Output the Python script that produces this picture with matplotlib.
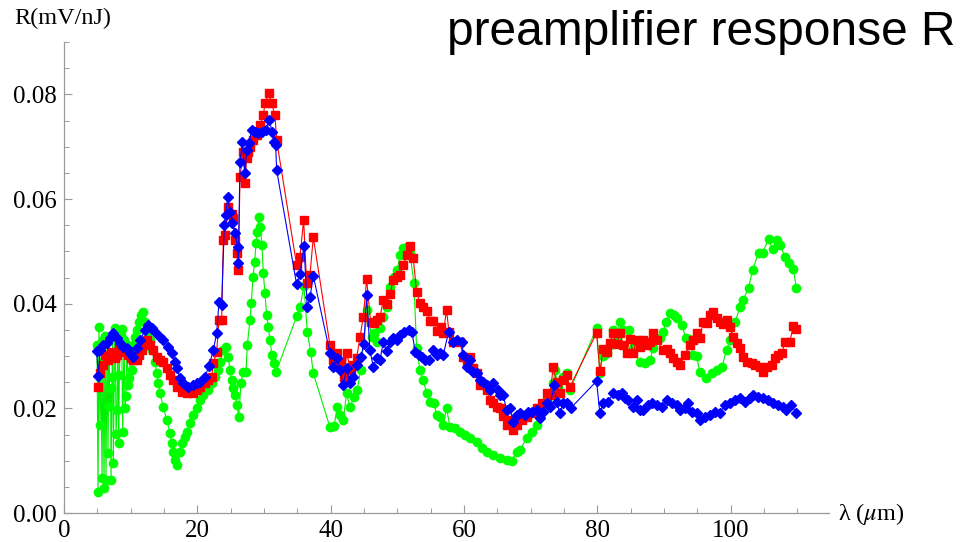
import numpy as np
import matplotlib.pyplot as plt
from matplotlib.ticker import MultipleLocator, FormatStrFormatter

# --- dati (lambda in um, R in mV/nJ) ---
lam_green = [4.95, 5.1, 5.25, 5.4, 5.55, 5.7, 5.85, 6.0, 6.15, 6.3, 6.45, 6.6, 6.75, 6.8, 7.0, 7.05,
             7.2, 7.3, 7.4, 7.6, 7.7, 7.8, 7.95, 8.1, 8.2, 8.3, 8.5, 8.65, 8.8, 9.0, 9.15, 9.3, 9.45,
             9.65, 9.8, 10.0, 10.2, 10.4, 10.7, 11.0, 11.3, 11.6, 11.9, 12.2, 12.6, 12.9, 13.15, 13.65,
             13.9, 14.15, 14.4, 14.9, 15.4, 15.9, 16.15, 16.4, 16.65, 16.9, 17.4, 17.65, 18.15, 18.4,
             18.9, 19.4, 19.9, 20.4, 20.9, 21.65, 22.15, 22.65, 23.15, 23.4, 23.9, 24.3, 24.65, 24.9,
             25.15, 25.4, 25.7, 25.95, 26.2, 26.55, 26.85, 27.3, 27.5, 27.9, 28.1, 28.35, 28.6, 28.8,
             29.0, 29.2, 29.45, 29.7, 29.9, 30.15, 30.4, 30.65, 30.9, 31.2, 31.5, 31.8, 34.9, 35.4,
             36.0, 36.5, 37.0, 37.4, 39.9, 40.5, 41.0, 41.4, 41.9, 42.4, 42.9, 43.5, 44.0, 44.5, 45.5,
             46.15, 46.5, 47.0, 47.4, 47.9, 48.4, 48.9, 49.5, 50.0, 50.4, 50.9, 51.5, 51.9, 52.5, 52.9,
             53.4, 53.9, 54.4, 54.9, 55.5, 55.9, 56.4, 56.9, 57.4, 57.9, 58.65, 59.4, 60.15, 60.9,
             61.9, 62.65, 63.4, 64.4, 65.4, 66.4, 67.15, 67.9, 68.4, 69.4, 70.15, 70.9, 71.4, 71.9,
             72.4, 72.9, 73.4, 73.65, 74.1, 74.4, 74.9, 75.45, 75.9, 79.9, 80.4, 80.8, 81.4, 81.9,
             82.4, 82.9, 83.4, 83.9, 84.8, 85.4, 86.4, 87.15, 87.9, 88.4, 89.4, 89.9, 90.3, 90.9, 91.5,
             92.0, 92.7, 93.3, 93.8, 94.4, 94.9, 95.4, 96.3, 97.2, 97.9, 98.7, 99.4, 99.9, 100.7,
             101.4, 101.9, 102.7, 103.3, 104.2, 104.8, 105.7, 106.3, 106.9, 107.4, 108.2, 108.8,
             109.4, 109.9]
R_green = [0.0321, 0.0040, 0.0355, 0.0168, 0.0288, 0.0067, 0.0330, 0.0048, 0.0338, 0.0063, 0.0334,
           0.0115, 0.0330, 0.0204, 0.0239, 0.0063, 0.0260, 0.0338, 0.0096, 0.0344, 0.0353, 0.0151,
           0.0197, 0.0346, 0.0134, 0.0264, 0.0340, 0.0351, 0.0155, 0.0330, 0.0200, 0.0223, 0.0321,
           0.0244, 0.0258, 0.0307, 0.0273, 0.0321, 0.0336, 0.0350, 0.0365, 0.0378, 0.0384, 0.0365,
           0.0346, 0.0330, 0.0311, 0.0288, 0.0267, 0.0248, 0.0229, 0.0202, 0.0178, 0.0153, 0.0134,
           0.0117, 0.0101, 0.0092, 0.0117, 0.0134, 0.0145, 0.0155, 0.0172, 0.0187, 0.0201, 0.0216,
           0.0225, 0.0235, 0.0248, 0.0260, 0.0273, 0.0288, 0.0311, 0.0317, 0.0298, 0.0273, 0.0254,
           0.0239, 0.0225, 0.0206, 0.0183, 0.0248, 0.0269, 0.0269, 0.0321, 0.0369, 0.0401, 0.0451,
           0.0479, 0.0516, 0.0537, 0.0565, 0.0546, 0.0512, 0.0458, 0.0420, 0.0378, 0.0355, 0.0330,
           0.0302, 0.0287, 0.0269, 0.0376, 0.0393, 0.0434, 0.0346, 0.0308, 0.0267, 0.0164, 0.0166,
           0.0202, 0.0187, 0.0178, 0.0229, 0.0202, 0.0222, 0.0235, 0.0273, 0.0388, 0.0336, 0.0344,
           0.0327, 0.0353, 0.0374, 0.0393, 0.0432, 0.0451, 0.0464, 0.0493, 0.0506, 0.0508, 0.0497,
           0.0439, 0.0315, 0.0273, 0.0254, 0.0229, 0.0212, 0.0210, 0.0187, 0.0183, 0.0168, 0.0200,
           0.0164, 0.0162, 0.0155, 0.0149, 0.0143, 0.0136, 0.0124, 0.0117, 0.0111, 0.0105, 0.0101,
           0.0099, 0.0117, 0.0120, 0.0143, 0.0155, 0.0168, 0.0183, 0.0197, 0.0216, 0.0229, 0.0248,
           0.0273, 0.0241, 0.0229, 0.0260, 0.0267, 0.0235, 0.0353, 0.0267, 0.0300, 0.0306, 0.0321,
           0.0350, 0.0336, 0.0365, 0.0350, 0.0350, 0.0315, 0.0288, 0.0287, 0.0292, 0.0315, 0.0334,
           0.0346, 0.0365, 0.0382, 0.0378, 0.0372, 0.0359, 0.0334, 0.0332, 0.0302, 0.0300, 0.0269,
           0.0258, 0.0267, 0.0273, 0.0279, 0.0311, 0.0330, 0.0365, 0.0393, 0.0407, 0.0430, 0.0464,
           0.0497, 0.0497, 0.0523, 0.0504, 0.0521, 0.0512, 0.0489, 0.0478, 0.0466, 0.0430]

lam_red = [5.15, 5.4, 5.85, 6.2, 6.6, 7.0, 7.35, 7.65, 7.9, 8.25, 8.65, 9.15, 9.6, 10.0, 10.35, 10.9,
           11.25, 11.65, 12.0, 12.4, 12.9, 13.35, 13.9, 14.4, 14.9, 15.4, 15.9, 16.4, 16.9, 17.65,
           18.4, 18.9, 19.4, 19.9, 20.4, 21.15, 21.65, 22.15, 22.4, 22.9, 23.25, 23.65, 23.9, 24.15,
           24.65, 25.15, 25.4, 25.65, 25.9, 26.15, 26.4, 26.9, 27.15, 27.4, 27.65, 27.9, 28.4, 28.9,
           29.4, 29.9, 30.15, 30.7, 31.15, 31.65, 31.9, 34.9, 35.4, 35.95, 36.4, 36.9, 37.4, 39.9,
           40.4, 40.9, 41.5, 42.0, 42.4, 43.0, 43.4, 43.9, 44.4, 44.9, 45.4, 46.0, 46.5, 47.0, 47.4,
           47.9, 48.4, 48.9, 49.4, 49.95, 50.4, 50.9, 51.4, 51.9, 52.4, 52.9, 53.4, 53.9, 54.4, 54.9,
           55.4, 55.95, 56.5, 56.9, 57.4, 57.75, 58.4, 59.4, 59.9, 60.4, 60.9, 61.4, 61.9, 62.4,
           62.9, 63.4, 63.9, 64.4, 64.9, 65.4, 65.9, 66.4, 66.9, 67.4, 67.9, 68.65, 69.4, 70.15,
           70.9, 71.65, 72.4, 72.9, 73.4, 73.9, 74.4, 74.9, 75.4, 75.9, 79.9, 80.4, 80.9, 81.4,
           81.9, 82.4, 82.9, 83.4, 83.9, 84.4, 84.9, 85.4, 85.9, 86.4, 86.9, 87.4, 87.9, 88.4, 88.9,
           89.9, 90.4, 90.9, 91.4, 91.9, 92.4, 93.15, 93.9, 94.4, 94.9, 95.4, 95.9, 96.4, 96.9,
           97.4, 97.9, 98.4, 98.9, 99.4, 99.9, 100.4, 100.9, 101.4, 101.9, 102.4, 103.2, 103.7,
           104.4, 104.9, 105.4, 106.2, 106.7, 107.2, 107.7, 108.2, 108.9, 109.4, 109.9]
R_red = [0.0241, 0.0267, 0.0283, 0.0302, 0.0292, 0.0308, 0.0306, 0.0296, 0.0302, 0.0315, 0.0311,
         0.0308, 0.0302, 0.0296, 0.0292, 0.0292, 0.0302, 0.0311, 0.0323, 0.0330, 0.0321, 0.0311,
         0.0298, 0.0292, 0.0288, 0.0277, 0.0264, 0.0254, 0.0241, 0.0231, 0.0229, 0.0235, 0.0229,
         0.0235, 0.0241, 0.0248, 0.0254, 0.0260, 0.0286, 0.0308, 0.0369, 0.0369, 0.0521, 0.0531,
         0.0584, 0.0571, 0.0563, 0.0521, 0.0497, 0.0464, 0.0642, 0.0690, 0.0630, 0.0678, 0.0690,
         0.0699, 0.0712, 0.0722, 0.0741, 0.0760, 0.0783, 0.0802, 0.0783, 0.0760, 0.0712, 0.0474,
         0.0489, 0.0560, 0.0439, 0.0455, 0.0527, 0.0321, 0.0292, 0.0306, 0.0288, 0.0260, 0.0306,
         0.0273, 0.0283, 0.0296, 0.0336, 0.0374, 0.0447, 0.0365, 0.0363, 0.0369, 0.0374, 0.0407,
         0.0399, 0.0418, 0.0445, 0.0451, 0.0455, 0.0474, 0.0493, 0.0510, 0.0487, 0.0422, 0.0401,
         0.0393, 0.0386, 0.0367, 0.0367, 0.0348, 0.0355, 0.0344, 0.0388, 0.0346, 0.0327, 0.0327,
         0.0298, 0.0286, 0.0298, 0.0277, 0.0267, 0.0244, 0.0246, 0.0235, 0.0216, 0.0210, 0.0202,
         0.0200, 0.0185, 0.0168, 0.0178, 0.0159, 0.0168, 0.0178, 0.0183, 0.0191, 0.0200, 0.0210,
         0.0229, 0.0225, 0.0279, 0.0250, 0.0229, 0.0254, 0.0264, 0.0241, 0.0344, 0.0271, 0.0313,
         0.0308, 0.0325, 0.0344, 0.0323, 0.0344, 0.0321, 0.0306, 0.0332, 0.0306, 0.0330, 0.0317,
         0.0330, 0.0321, 0.0327, 0.0344, 0.0330, 0.0311, 0.0313, 0.0306, 0.0296, 0.0288, 0.0283,
         0.0302, 0.0321, 0.0330, 0.0344, 0.0334, 0.0365, 0.0363, 0.0378, 0.0384, 0.0372, 0.0365,
         0.0361, 0.0369, 0.0355, 0.0336, 0.0325, 0.0315, 0.0298, 0.0288, 0.0286, 0.0283, 0.0279,
         0.0269, 0.0279, 0.0283, 0.0296, 0.0302, 0.0306, 0.0327, 0.0327, 0.0357, 0.0351]

lam_blue = [4.9, 5.15, 5.4, 5.9, 6.4, 6.9, 7.4, 7.9, 8.4, 8.9, 9.4, 9.9, 10.4, 10.9, 11.4, 12.15,
            12.65, 13.15, 13.65, 14.4, 14.9, 15.65, 16.15, 16.65, 16.9, 17.4, 17.9, 18.65, 19.4,
            19.9, 20.4, 21.15, 21.75, 22.4, 22.9, 23.25, 23.65, 24.05, 24.25, 24.55, 24.9, 25.25,
            25.65, 26.05, 26.15, 26.4, 26.75, 27.15, 27.4, 27.75, 28.15, 28.65, 29.15, 29.65, 30.25,
            30.75, 31.25, 31.5, 31.75, 31.9, 34.9, 35.4, 36.0, 36.5, 36.9, 37.4, 39.9, 40.3, 41.0,
            41.4, 41.9, 42.4, 42.9, 43.4, 44.0, 44.5, 45.0, 45.4, 45.9, 46.4, 46.9, 47.4, 47.9,
            48.4, 48.9, 49.4, 49.9, 50.4, 51.0, 51.7, 52.2, 52.7, 53.2, 53.7, 54.2, 54.7, 55.4,
            55.9, 56.4, 56.9, 57.7, 58.4, 58.9, 59.7, 59.9, 60.4, 60.9, 61.4, 61.9, 62.4, 62.9,
            63.4, 63.9, 64.4, 65.15, 65.4, 65.9, 66.4, 66.9, 67.4, 67.9, 68.4, 69.15, 69.65, 70.15,
            70.9, 71.4, 71.9, 72.4, 72.9, 73.5, 73.9, 74.4, 74.9, 75.4, 76.0, 79.9, 80.4, 80.9,
            81.65, 82.4, 83.15, 83.65, 84.15, 84.65, 85.4, 85.9, 86.4, 86.9, 87.65, 88.15, 88.9,
            89.65, 90.4, 91.15, 91.9, 92.4, 93.15, 93.65, 94.15, 94.9, 95.4, 96.15, 96.9, 97.65,
            98.4, 99.15, 99.9, 100.65, 101.4, 102.15, 102.9, 103.4, 104.15, 104.9, 105.65, 106.4,
            107.15, 107.9, 108.4, 109.15, 109.9]
R_blue = [0.0309, 0.0262, 0.0311, 0.0321, 0.0325, 0.0334, 0.0344, 0.0334, 0.0325, 0.0317, 0.0315,
          0.0306, 0.0298, 0.0315, 0.0330, 0.0350, 0.0359, 0.0353, 0.0346, 0.0336, 0.0330, 0.0317,
          0.0306, 0.0288, 0.0277, 0.0258, 0.0248, 0.0241, 0.0244, 0.0248, 0.0250, 0.0260, 0.0281,
          0.0311, 0.0344, 0.0403, 0.0397, 0.0550, 0.0569, 0.0604, 0.0575, 0.0554, 0.0535, 0.0508,
          0.0478, 0.0670, 0.0709, 0.0649, 0.0693, 0.0707, 0.0732, 0.0728, 0.0726, 0.0728, 0.0732,
          0.0751, 0.0728, 0.0709, 0.0703, 0.0655, 0.0437, 0.0456, 0.0510, 0.0393, 0.0412, 0.0453,
          0.0306, 0.0279, 0.0296, 0.0273, 0.0244, 0.0277, 0.0248, 0.0260, 0.0283, 0.0298, 0.0323,
          0.0416, 0.0311, 0.0279, 0.0296, 0.0292, 0.0327, 0.0309, 0.0327, 0.0334, 0.0330, 0.0340,
          0.0346, 0.0350, 0.0346, 0.0308, 0.0302, 0.0298, 0.0292, 0.0292, 0.0311, 0.0302, 0.0306,
          0.0302, 0.0346, 0.0327, 0.0330, 0.0327, 0.0302, 0.0279, 0.0292, 0.0269, 0.0267, 0.0254,
          0.0250, 0.0244, 0.0235, 0.0248, 0.0235, 0.0225, 0.0225, 0.0197, 0.0200, 0.0174, 0.0187,
          0.0191, 0.0187, 0.0193, 0.0193, 0.0197, 0.0181, 0.0193, 0.0210, 0.0202, 0.0244, 0.0212,
          0.0191, 0.0210, 0.0210, 0.0200, 0.0252, 0.0191, 0.0210, 0.0212, 0.0229, 0.0225, 0.0229,
          0.0220, 0.0216, 0.0202, 0.0216, 0.0197, 0.0197, 0.0206, 0.0210, 0.0206, 0.0202, 0.0216,
          0.0210, 0.0206, 0.0197, 0.0200, 0.0210, 0.0193, 0.0191, 0.0178, 0.0183, 0.0187, 0.0193,
          0.0191, 0.0206, 0.0210, 0.0216, 0.0220, 0.0212, 0.0220, 0.0225, 0.0222, 0.0220, 0.0216,
          0.0210, 0.0206, 0.0202, 0.0197, 0.0206, 0.0191]

x_ticks = [0, 20, 40, 60, 80, 100]
y_ticks = [0.00, 0.02, 0.04, 0.06, 0.08]

plt.rcParams['mathtext.fontset'] = 'stix'
serif = 'Liberation Serif'
grigio = '#9a9a9a'

fig = plt.figure(figsize=(9.6, 5.42), dpi=100)
ax = fig.add_axes([0.0667, 0.0535, 0.797, 0.869])

# verde, rosso, blu (blu sopra)
ax.plot(lam_green, R_green, color='#00ee00', lw=0.8, marker='o', markersize=6,
        markerfacecolor='#00ff00', markeredgecolor='#00ff00', zorder=2)
ax.plot(lam_red, R_red, color='#ff0000', lw=0.8, marker='s', markersize=5.2,
        markerfacecolor='#ff0000', markeredgecolor='#ff0000', zorder=3)
ax.plot(lam_blue, R_blue, color='#0000ff', lw=0.8, marker='D', markersize=4.6,
        markerfacecolor='#0000ff', markeredgecolor='#0000ff', zorder=4)

ax.set_xlim(0, 114.8)
ax.set_ylim(0, 0.090)

for s in ['top', 'right']:
    ax.spines[s].set_visible(False)
for s in ['left', 'bottom']:
    ax.spines[s].set_color(grigio)
    ax.spines[s].set_linewidth(0.9)

ax.set_xticks(x_ticks)
ax.set_yticks(y_ticks)
ax.xaxis.set_minor_locator(MultipleLocator(5))
ax.yaxis.set_minor_locator(MultipleLocator(0.005))
ax.yaxis.set_major_formatter(FormatStrFormatter('%.2f'))
ax.tick_params(which='major', direction='in', length=6, width=0.8, color=grigio, pad=5)
ax.tick_params(which='minor', direction='in', length=3.5, width=0.7, color=grigio)
for lab in ax.get_xticklabels() + ax.get_yticklabels():
    lab.set_family(serif)
    lab.set_fontsize(18)

fig.text(0.0146, 0.985, 'R(mV/nJ)', family=serif, fontsize=17.5, ha='left', va='top')
fig.text(0.873, 0.052, r'λ ($\mu$m)', family=serif, fontsize=17.5, ha='left', va='center')
fig.text(0.995, 0.917, 'preamplifier response R', family='Liberation Sans', fontsize=34.5,
         ha='right', va='baseline')

fig.savefig('out.png', dpi=100)
